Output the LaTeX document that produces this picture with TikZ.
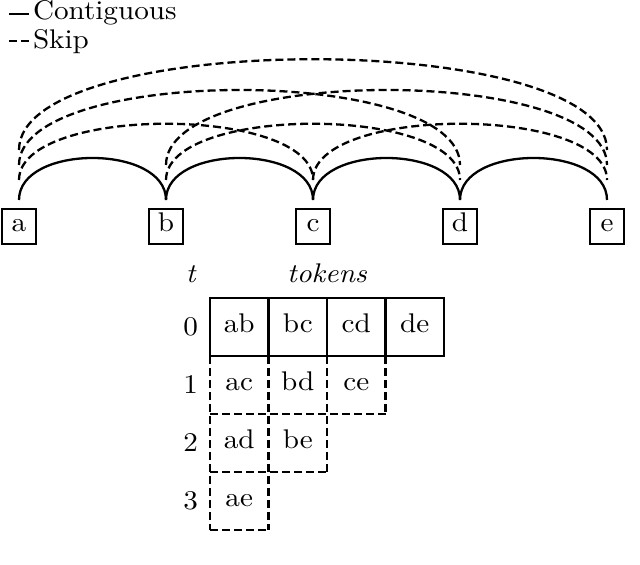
\documentclass[tikz,border=0pt]{standalone}
\usepackage{fontspec}
\setmainfont{lmroman10-regular.otf}[ItalicFont=lmroman10-italic.otf, FakeStretch=1.08]
\usetikzlibrary{positioning}

\begin{document}
\begin{tikzpicture}[
    x=0.5pt, y=0.5pt,
    font=\fontsize{13.5}{16}\selectfont,
    letter/.style={
        draw=black,
        rectangle,
        minimum width=17pt,
        minimum height=17.5pt,
        inner sep=0pt,
        outer sep=0pt,
        text height=1.5ex,
        text depth=0.25ex,
        line width=1pt
    },
    cell/.style={
        rectangle,
        minimum width=29.25pt,
        minimum height=29pt,
        inner sep=0pt,
        outer sep=0pt,
        text height=1.5ex,
        text depth=0.25ex
    },
    solidcell/.style={
        cell,
        draw=black,
        line width=1.2pt
    },
    contig/.style={
        line width=1.15pt,
        draw=black
    },
    skipped/.style={
        line width=1.15pt,
        draw=black,
        dash pattern=on 4pt off 2pt
    },
    label/.style={
        inner sep=0pt,
        outer sep=0pt
    }
]
\useasboundingbox (0,0) rectangle (640,565);

% legend
\node[label, anchor=base west] (legc) at (33,545) {Contiguous};
\node[label, anchor=base west] (legs) at (33,516) {Skip};
\draw[contig] ([xshift=-2pt,yshift=-0.5pt]legc.west) -- ++(-10pt,0);
\draw[skipped] ([xshift=-2pt,yshift=0.5pt]legs.west) -- ++(-10pt,0);

% sequence
\node[letter] (a) at (19,338.5) {a};
\node[letter, right=56.5pt of a] (b) {b};
\node[letter, right=56.5pt of b] (c) {c};
\node[letter, right=56.5pt of c] (d) {d};
\node[letter, right=56.5pt of d] (e) {e};

\foreach \u/\v in {a/b,b/c,c/d,d/e}
    \draw[contig] ([yshift=4.5pt]\u.north) to[out=90,in=90,distance=28pt] ([yshift=4.5pt]\v.north);
\foreach \u/\v in {a/c,b/d,c/e}
    \draw[skipped] ([yshift=14.5pt]\u.north) to[out=90,in=90,distance=37.5pt] ([yshift=14.5pt]\v.north);
\foreach \u/\v in {a/d,b/e}
    \draw[skipped] ([yshift=22pt]\u.north) to[out=90,in=90,distance=50pt] ([yshift=22pt]\v.north);
\draw[skipped] ([yshift=29.5pt]a.north) to[out=90,in=90,distance=60.5pt] ([yshift=29.5pt]e.north);

% token table
\node[solidcell] (ab) at (239.25,238) {ab};
\node[solidcell, right=0pt of ab] (bc) {bc};
\node[solidcell, right=0pt of bc] (cd) {cd};
\node[solidcell, right=0pt of cd] (de) {de};

\node[cell, below=0pt of ab] (ac) {ac};
\node[cell, right=0pt of ac] (bd) {bd};
\node[cell, right=0pt of bd] (ce) {ce};
\node[cell, below=0pt of ac] (ad) {ad};
\node[cell, right=0pt of ad] (be) {be};
\node[cell, below=0pt of ad] (ae) {ae};

\draw[skipped] (ac.north west) -- (ae.south west);
\draw[skipped] (ac.north east) -- (ae.south east);
\draw[skipped] (bd.north east) -- (be.south east);
\draw[skipped] (ce.north east) -- (ce.south east);
\draw[skipped] (ac.south west) -- (ce.south east);
\draw[skipped] (ad.south west) -- (be.south east);
\draw[skipped] (ae.south west) -- (ae.south east);

\node[label, left=6pt of ab] (r0) {0};
\node[label, left=6pt of ac] (r1) {1};
\node[label, left=6pt of ad] (r2) {2};
\node[label, left=6pt of ae] (r3) {3};

\node[label, anchor=base] (tokens) at ([yshift=7.5pt]bc.north east) {\itshape tokens};
\node[label, anchor=base] (time) at (r0 |- tokens.base) {\itshape t};

\end{tikzpicture}
\end{document}
